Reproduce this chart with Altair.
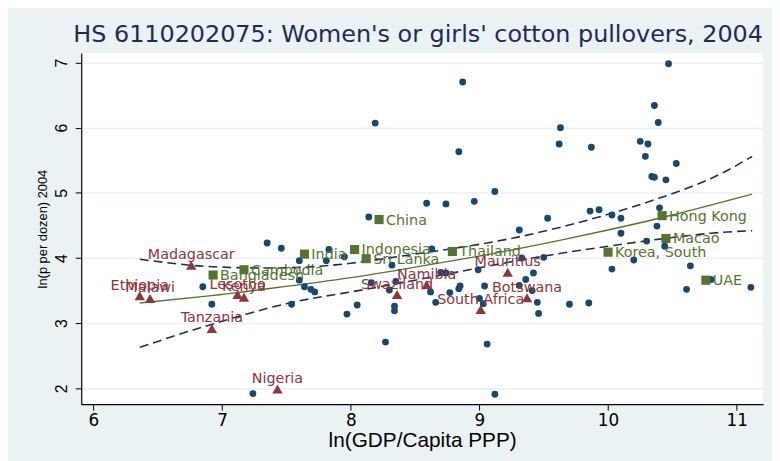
import altair as alt
import pandas as pd

# ---- data ----
other_x = [8.87, 10.47, 10.36, 10.39, 9.63, 8.84, 9.62, 9.87, 10.25, 10.31, 10.29, 10.53,
           10.34, 10.36, 10.45, 9.12, 8.96, 8.59, 8.74, 9.53, 9.86, 9.93, 10.03, 10.10,
           10.40, 10.38, 9.31, 10.10, 8.19, 8.14,
           7.35, 7.46, 7.83, 7.95, 7.81, 7.60, 8.32, 7.60, 6.85, 7.64, 7.69, 7.72,
           8.16, 8.35, 8.30, 6.92, 7.54, 8.05, 7.97, 8.34, 8.34, 8.27, 7.24,
           8.63, 10.30, 10.44, 10.20, 10.64, 10.03, 10.80, 11.11, 10.61, 9.70, 9.85,
           9.33, 9.50, 8.99, 9.42, 9.36, 9.31, 9.41, 8.70, 8.74, 8.62, 8.77, 8.85,
           8.84, 9.04, 8.66, 9.00, 9.03, 9.45, 9.46, 9.06, 9.12]
other_y = [6.70, 6.98, 6.34, 6.08, 6.00, 5.63, 5.75, 5.70, 5.79, 5.75, 5.56, 5.45,
           5.25, 5.24, 5.20, 5.02, 4.87, 4.84, 4.83, 4.61, 4.72, 4.74, 4.66, 4.61,
           4.77, 4.49, 4.43, 4.38, 6.07, 4.63,
           4.23, 4.15, 4.13, 4.02, 3.96, 3.96, 3.89, 3.66, 3.56, 3.56, 3.52, 3.48,
           3.62, 3.64, 3.51, 3.29, 3.29, 3.28, 3.14, 3.26, 3.19, 2.71, 1.92,
           4.14, 4.26, 4.18, 3.97, 3.88, 3.83, 3.67, 3.55, 3.52, 3.29, 3.31,
           4.00, 4.01, 3.82, 3.77, 3.67, 3.58, 3.50, 3.78, 3.77, 3.48, 3.47, 3.57,
           3.53, 3.57, 3.32, 3.38, 3.30, 3.32, 3.15, 2.68, 1.91]

africa_names = ["Madagascar", "Ethiopia", "Malawi", "Lesotho", "Kenya", "Tanzania",
                "Nigeria", "Swaziland", "Namibia", "Mauritius", "South Africa", "Botswana"]
africa_x = [6.76, 6.36, 6.44, 7.12, 7.17, 6.92, 7.43, 8.36, 8.59, 9.22, 9.01, 9.37]
africa_y = [3.89, 3.42, 3.38, 3.44, 3.40, 2.92, 1.99, 3.44, 3.59, 3.78, 3.21, 3.39]

asia_names = ["China", "India", "Indonesia", "Sri Lanka", "Cambodia", "Bangladesh",
              "Thailand", "Hong Kong", "Macao", "Korea, South", "UAE"]
asia_x = [8.22, 7.64, 8.03, 8.12, 7.17, 6.93, 8.79, 10.42, 10.45, 10.00, 10.76]
asia_y = [4.59, 4.06, 4.13, 3.99, 3.82, 3.74, 4.10, 4.65, 4.30, 4.09, 3.66]

fit_x = [6.36, 6.9, 7.4, 8.0, 8.5, 9.0, 9.5, 10.0, 10.5, 11.12]
fit_y = [3.31, 3.42, 3.54, 3.70, 3.86, 4.03, 4.22, 4.43, 4.66, 4.98]

band_x = [6.36, 6.7, 7.0, 7.5, 8.0, 8.5, 9.0, 9.5, 10.0, 10.4, 10.8, 11.12]
band_upper = [3.98, 3.90, 3.86, 3.85, 3.92, 4.06, 4.21, 4.41, 4.67, 4.92, 5.22, 5.56]
band_lower = [2.63, 2.85, 3.03, 3.30, 3.48, 3.66, 3.85, 4.03, 4.18, 4.29, 4.38, 4.42]

x_ticks = [6, 7, 8, 9, 10, 11]
y_ticks = [2, 3, 4, 5, 6, 7]

# ---- tables ----
others = pd.DataFrame({"x": other_x, "y": other_y})
africa = pd.DataFrame({"x": africa_x, "y": africa_y, "name": africa_names})
asia = pd.DataFrame({"x": asia_x, "y": asia_y, "name": asia_names})
fit = pd.DataFrame({"x": fit_x, "y": fit_y})
bands = pd.concat([
    pd.DataFrame({"x": band_x, "y": band_upper, "band": "upper"}),
    pd.DataFrame({"x": band_x, "y": band_lower, "band": "lower"}),
])

NAVY = "#1A476F"
MAROON = "#90353B"
GREEN = "#55752F"
FONT = "DejaVu Sans"

xscale = alt.Scale(domain=[5.905, 11.205], nice=False, zero=False)
yscale = alt.Scale(domain=[1.757, 7.147], nice=False, zero=False)

X = alt.X("x:Q", scale=xscale,
          axis=alt.Axis(values=x_ticks, title="ln(GDP/Capita PPP)", grid=False,
                        format="d", labelFontSize=17, titleFontSize=21,
                        labelFont=FONT, titleFont="Liberation Sans", labelColor="#000",
                        titleColor="#000", domainColor="#000", tickColor="#000",
                        tickSize=6, labelPadding=3, titlePadding=1,
                        titleFontWeight="normal", domainWidth=1.2))
Y = alt.Y("y:Q", scale=yscale,
          axis=alt.Axis(values=y_ticks, title="ln(p per dozen) 2004", grid=True,
                        gridColor="#EAF2F3", gridWidth=1.5, format="d",
                        labelAngle=270, labelAlign="center", labelBaseline="bottom",
                        labelFontSize=16, titleFontSize=13, labelFont="Liberation Sans",
                        titleFont="Liberation Sans", labelColor="#000",
                        titleColor="#000", domainColor="#000", tickColor="#000",
                        tickSize=6, labelPadding=6, titlePadding=4,
                        titleFontWeight="normal", domainWidth=1.2))

band_layer = alt.Chart(bands).mark_line(
    color="#1F2D5C", strokeWidth=1.6, strokeDash=[9, 5], interpolate="natural"
).encode(x=X, y=Y, detail="band:N")

fit_layer = alt.Chart(fit).mark_line(
    color=GREEN, strokeWidth=1.4, interpolate="natural"
).encode(x=X, y=Y)

dots = alt.Chart(others).mark_point(
    shape="circle", filled=True, size=48, color=NAVY, opacity=1
).encode(x=X, y=Y)

tri = alt.Chart(africa).mark_point(
    shape="triangle-up", filled=True, size=110, color=MAROON, opacity=1
).encode(x=X, y=Y)
tri_text = alt.Chart(africa).mark_text(
    font=FONT, fontSize=14.5, color=MAROON, align="center", baseline="alphabetic", dy=-6
).encode(x=X, y=Y, text="name:N")

sq = alt.Chart(asia).mark_point(
    shape="square", filled=True, size=85, color=GREEN, opacity=1
).encode(x=X, y=Y)
sq_text = alt.Chart(asia).mark_text(
    font=FONT, fontSize=14.5, color=GREEN, align="left", baseline="middle", dx=7, dy=1
).encode(x=X, y=Y, text="name:N")

chart = alt.layer(
    band_layer, fit_layer, dots, tri, tri_text, sq, sq_text
).properties(
    width=689, height=355,
    padding={"left": 74, "top": 43, "right": 9, "bottom": 55},
    autosize=alt.AutoSizeParams(type="none"),
    background="#EAF2F3",
    title=alt.TitleParams(
        "HS 6110202075: Women's or girls' cotton pullovers, 2004",
        anchor="start", frame="group", dx=-8, dy=21, offset=8, fontSize=24.1, font=FONT,
        fontWeight="normal", color="#1C2B57", baseline="alphabetic"
    ),
).configure_view(stroke=None, fill="white")

chart.save("out.html", embed_options={"renderer": "svg", "actions": False})
